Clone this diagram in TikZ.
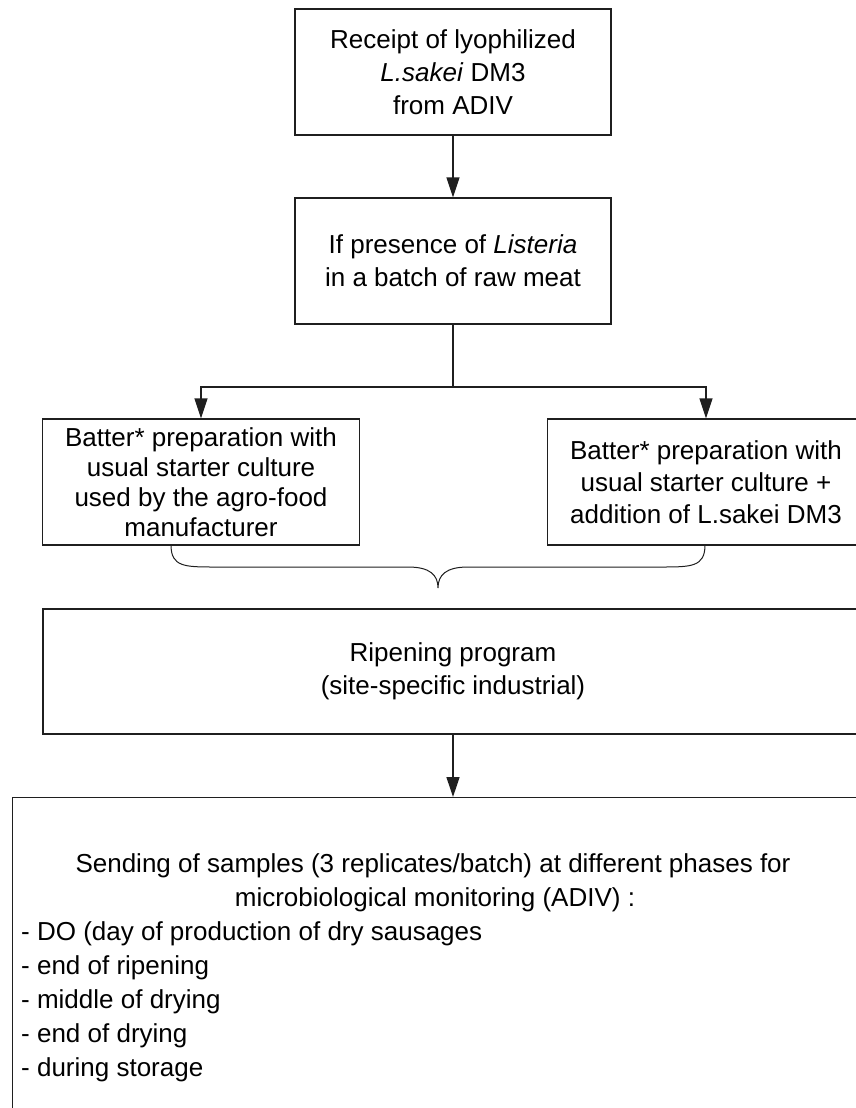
\documentclass[tikz,border=0pt]{standalone}
\usepackage{fontspec}
\setmainfont{Liberation Sans}
\usetikzlibrary{arrows.meta}
\begin{document}
\begin{tikzpicture}[x=1pt,y=-1pt,
  every node/.style={font=\fontsize{26}{33}\selectfont, text=black},
  boxnode/.style={draw=black!88, line width=1.3pt, inner sep=0pt, align=center},
  conn/.style={draw=black!88, line width=1.3pt},
  arr/.style={conn, -{Triangle[length=20pt,width=13pt]}},
  listitem/.style={anchor=base west, inner sep=0pt}]
\useasboundingbox (0,0) rectangle (855,1108);

\node[boxnode, minimum width=316, minimum height=126] (receipt) at (453,72)
  {Receipt of lyophilized\\ \textit{L.sakei} DM3\\ from ADIV};
\node[boxnode, minimum width=316, minimum height=126] (listeria) at (453,261)
  {If presence of \textit{Listeria}\\ in a batch of raw meat};
\node[boxnode, minimum width=317, minimum height=126,
      font=\fontsize{26}{30}\selectfont] (usual) at (201,482)
  {Batter* preparation with\\ usual starter culture\\ used by the agro-food\\ manufacturer};
\node[boxnode, minimum width=317, minimum height=126,
      font=\fontsize{26}{32}\selectfont] (sakei) at (706,482)
  {Batter* preparation with\\ usual starter culture +\\ addition of L.sakei DM3};
\node[boxnode, minimum width=820, minimum height=125] (ripening) at (453,671.5)
  {Ripening program\\ (site-specific industrial)};
\node[boxnode, minimum width=870, minimum height=340, anchor=north west] (samples) at (12,797) {};

\node[anchor=base, inner sep=0pt, align=center] (sendtitle) at (433,872)
  {Sending of samples (3 replicates/batch) at different phases for};
\node[anchor=base, inner sep=0pt] (sendtitle2) at (435,906)
  {microbiological monitoring (ADIV) :};
\node[listitem] (item1) at (21,940) {- DO (day of production of dry sausages};
\node[listitem] (item2) at (21,974) {- end of ripening};
\node[listitem] (item3) at (21,1008) {- middle of drying};
\node[listitem] (item4) at (21,1042) {- end of drying};
\node[listitem] (item5) at (21,1076) {- during storage};

\coordinate (split) at (453,387);
\draw[arr] (receipt.south) -- (listeria.north);
\draw[conn] (listeria.south) -- (split);
\draw[arr] (split) -| (usual.north);
\draw[arr] (split) -| (sakei.north);
\draw[arr] (ripening.south) -- (ripening.south |- samples.north);

% brace
\coordinate (bl) at (171,545);
\coordinate (bt) at (438,588);
\coordinate (br) at (705,545);
\draw[conn, line width=1pt] (bl) .. controls (171,567) and (185,567) .. (215,567)
  -- (408,567) .. controls (430,567) and (438,575) .. (bt)
  .. controls (438,575) and (446,567) .. (468,567)
  -- (661,567) .. controls (691,567) and (705,567) .. (br);
\end{tikzpicture}
\end{document}
